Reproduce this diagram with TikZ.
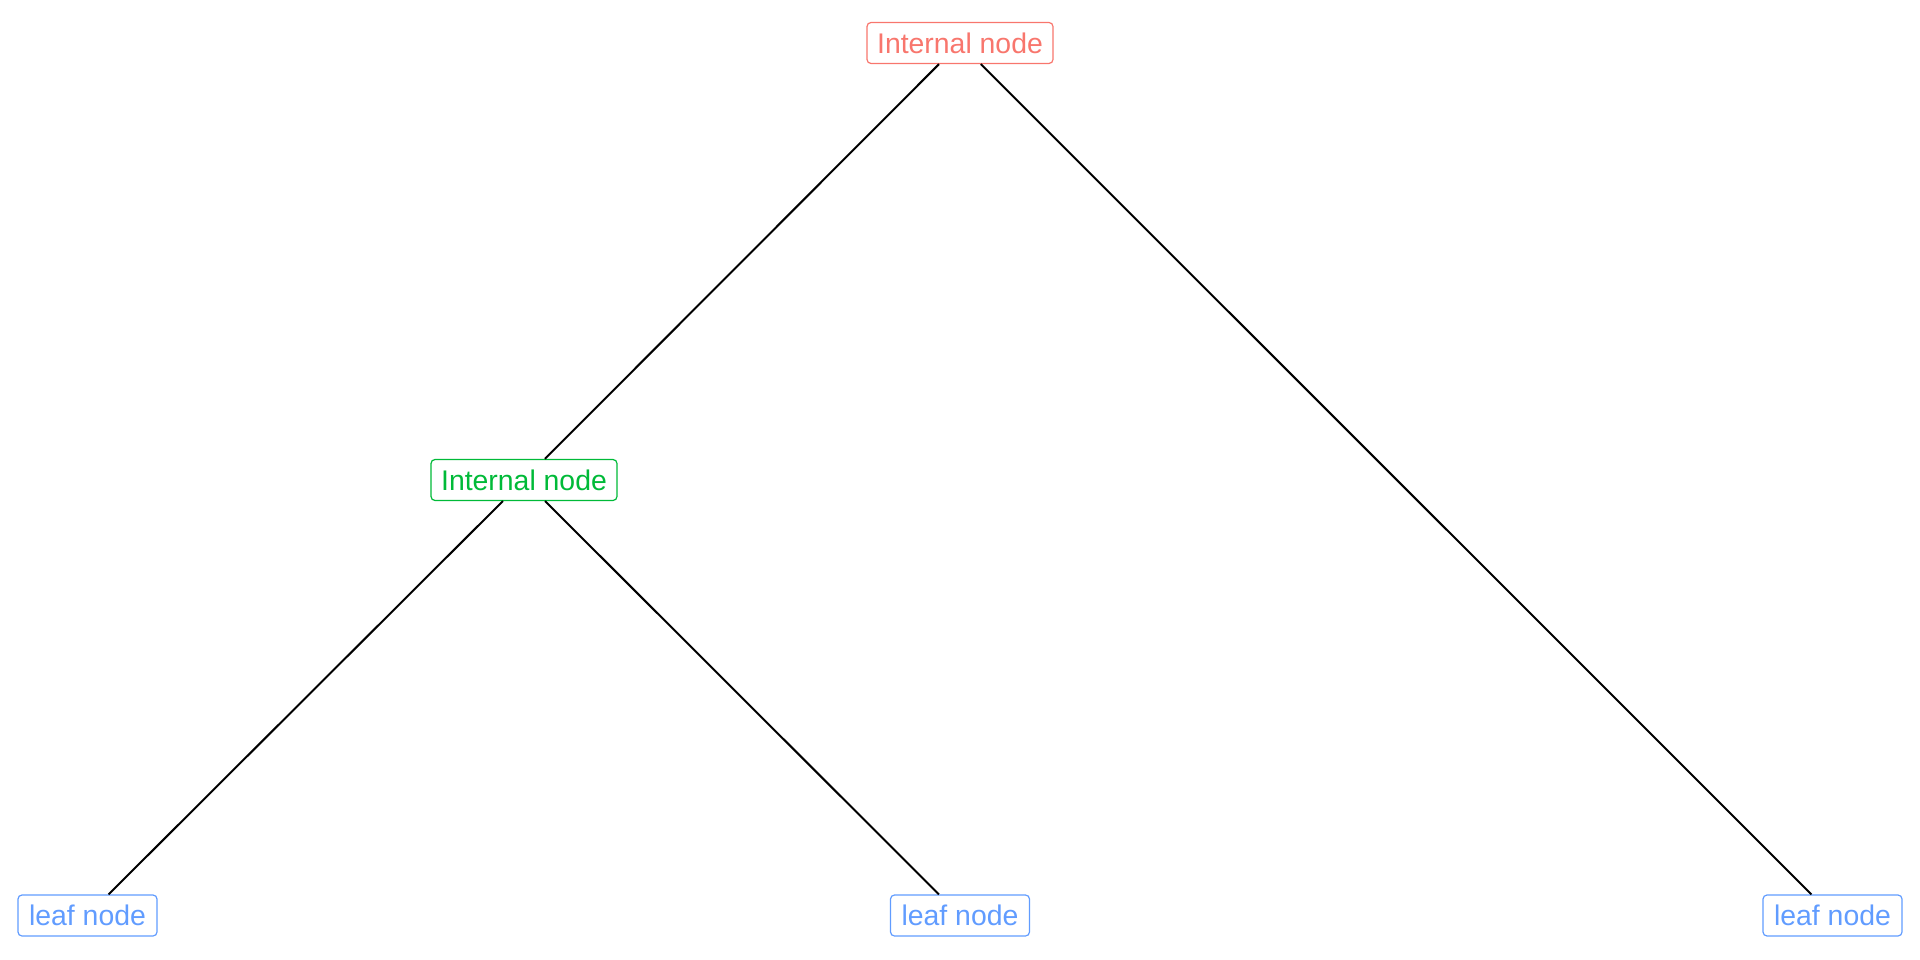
\documentclass[tikz,border=0pt]{standalone}
\usepackage{fontspec}
\setmainfont{Liberation Sans}
\definecolor{cred}{HTML}{F8766D}
\definecolor{cgreen}{HTML}{00BA38}
\definecolor{cblue}{HTML}{619CFF}
\begin{document}
\begin{tikzpicture}[x=1pt,y=-1pt,
  box/.style={draw, rounded corners=4pt, line width=1.2pt, font=\fontsize{28.4}{30}\selectfont,
    minimum height=41pt, inner xsep=10pt, inner ysep=0pt, anchor=center},
  internal/.style={box, draw=#1, text=#1, minimum width=186pt},
  leaf/.style={box, draw=cblue, text=cblue, minimum width=139pt},
  edge/.style={line width=2pt, black}]
\useasboundingbox (0,0) rectangle (1920,960);
\node[internal=cred] (root) at (960,43) {Internal node};
\node[internal=cgreen] (mid) at (524,480) {Internal node};
\node[leaf] (l1) at (87.5,915.5) {leaf node};
\node[leaf] (l2) at (960,915.5) {leaf node};
\node[leaf] (l3) at (1832.5,915.5) {leaf node};
\draw[edge] (root) -- (mid);
\draw[edge] (root) -- (l3);
\draw[edge] (mid) -- (l1);
\draw[edge] (mid) -- (l2);
\end{tikzpicture}
\end{document}
